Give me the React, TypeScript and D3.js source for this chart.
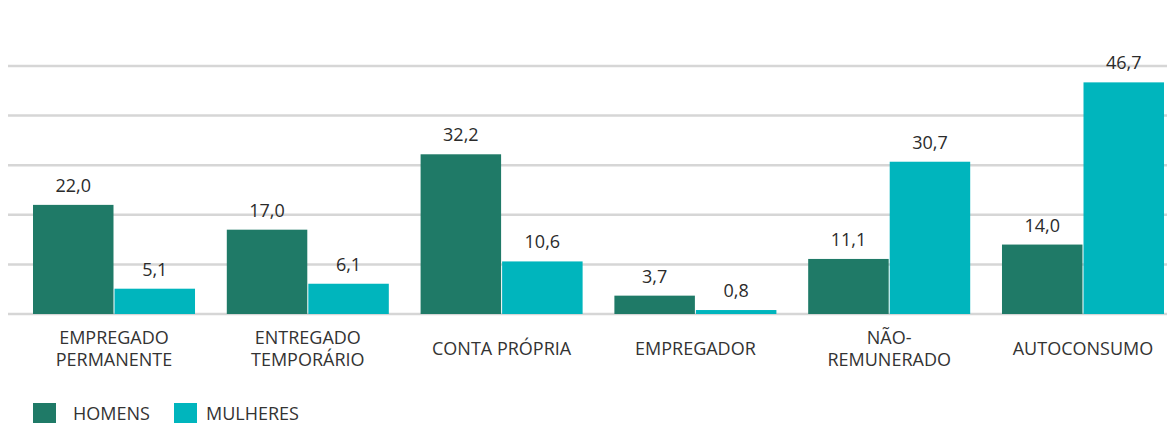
import * as d3 from "d3";

const categories = [
  ["EMPREGADO", "PERMANENTE"],
  ["ENTREGADO", "TEMPORÁRIO"],
  ["CONTA PRÓPRIA"],
  ["EMPREGADOR"],
  ["NÃO-", "REMUNERADO"],
  ["AUTOCONSUMO"],
];
const homens = [22.0, 17.0, 32.2, 3.7, 11.1, 14.0];
const mulheres = [5.1, 6.1, 10.6, 0.8, 30.7, 46.7];
const seriesNames = ["HOMENS", "MULHERES"];
const colors = ["#1f7a67", "#00b5bd"];
const gridTicks = [0, 10, 20, 30, 40, 50];

const WIDTH = 1167;
const HEIGHT = 425;
const FONT = "'Open Sans', sans-serif";

const fmt = (v: number) => v.toFixed(1).replace(".", ",");

export default function App() {
  const keys = categories.map((c) => c.join(" "));
  const x = d3.scaleBand<string>().domain(keys).range([33, 1164]).paddingInner(0.164).paddingOuter(0);
  const xs = d3.scaleBand<string>().domain(seriesNames).range([0, x.bandwidth()]).paddingInner(0.0125);
  const y = d3.scaleLinear().domain([0, 50]).range([314, 66]);
  const series = [homens, mulheres];

  return (
    <div>
      <svg width={WIDTH} height={HEIGHT} style={{ position: "absolute", left: 0, top: 0 }} fontFamily={FONT}>
        {gridTicks.map((t) => (
          <line key={t} x1={8} x2={WIDTH} y1={y(t)} y2={y(t)} stroke="#d6d6d6" strokeWidth={2.5} />
        ))}
        {keys.map((k, i) => (
          <g key={k} transform={`translate(${x(k)},0)`}>
            {series.map((s, j) => {
              const bx = xs(seriesNames[j])!;
              return (
                <g key={j}>
                  <rect x={bx} y={y(s[i])} width={xs.bandwidth()} height={y(0) - y(s[i])} fill={colors[j]} />
                  <text x={bx + xs.bandwidth() / 2} y={y(s[i]) - 13} textAnchor="middle" fontSize={18} fill="#2b2b2b">
                    {fmt(s[i])}
                  </text>
                </g>
              );
            })}
            {categories[i].map((line, li) => (
              <text
                key={li}
                x={x.bandwidth() / 2}
                y={categories[i].length === 1 ? 355 : 344 + li * 22}
                textAnchor="middle"
                fontSize={18}
                fill="#333"
              >
                {line}
              </text>
            ))}
          </g>
        ))}
        {seriesNames.map((n, j) => (
          <g key={n} transform={`translate(${j === 0 ? 33 : 174},403)`}>
            <rect width={23} height={20} fill={colors[j]} />
            <text x={j === 0 ? 40 : 32} y={17} fontSize={18} fill="#333">
              {n}
            </text>
          </g>
        ))}
      </svg>
    </div>
  );
}
